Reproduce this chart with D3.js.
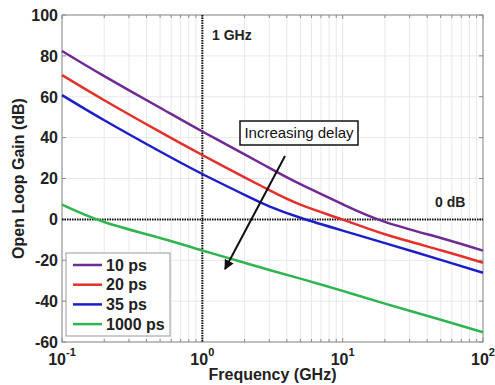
<!DOCTYPE html>
<html><head><meta charset="utf-8">
<script src="https://cdn.jsdelivr.net/npm/d3@7"></script>
<style>body{margin:0;background:#fff;} svg{display:block;font-family:Arial,"Liberation Sans",sans-serif;}</style>
</head><body>
<script>
const freqs = [0.1, 0.2, 0.5, 1, 2, 3, 5, 10, 20, 50, 100];
const seriesNames = ["10 ps", "20 ps", "35 ps", "1000 ps"];
const gain10 = [82.4, 70.1, 54.6, 43.0, 31.8, 25.2, 17.2, 7.4, -1.2, -9.1, -15.3];
const gain20 = [70.6, 58.3, 42.8, 31.5, 20.6, 14.3, 7.2, -0.1, -7.3, -15.1, -21.2];
const gain35 = [60.8, 48.5, 33.2, 22.2, 12.0, 6.4, 0.8, -5.5, -11.6, -19.8, -26.1];
const gain1000 = [7.2, -1.3, -9.1, -15.2, -21.2, -24.8, -29.0, -35.0, -41.2, -49.1, -55.2];
const colors = ["#6e2b94", "#e2312b", "#1c1fc8", "#2fb450"];
const yTicks = [-60, -40, -20, 0, 20, 40, 60, 80, 100];
const xTicks = [0.1, 1, 10, 100];
const xTickExp = ["-1", "0", "1", "2"];

const W = 495, H = 385;
const m = {l: 62, r: 12, t: 15, b: 43};
const svg = d3.select("body").append("svg").attr("width", W).attr("height", H);
const x = d3.scaleLog().domain([0.1, 100]).range([m.l, W - m.r]);
const y = d3.scaleLinear().domain([-60, 100]).range([H - m.b, m.t]);

// minor log ticks
const minor = [];
for (let d = 0.1; d < 100; d *= 10) for (let k = 2; k <= 9; k++) minor.push(+(d * k).toPrecision(3));

const grid = svg.append("g").attr("stroke", "#e8e8e8").attr("stroke-width", 1);
minor.concat(xTicks).forEach(f => grid.append("line").attr("x1", x(f)).attr("x2", x(f)).attr("y1", y(-60)).attr("y2", y(100)));
yTicks.forEach(v => grid.append("line").attr("x1", x(0.1)).attr("x2", x(100)).attr("y1", y(v)).attr("y2", y(v)));

// frame
svg.append("rect").attr("x", x(0.1)).attr("y", y(100)).attr("width", x(100) - x(0.1)).attr("height", y(-60) - y(100))
  .attr("fill", "none").attr("stroke", "#8a8a8a").attr("stroke-width", 1);

// inner ticks
const tk = svg.append("g").attr("stroke", "#8a8a8a").attr("stroke-width", 1);
minor.concat(xTicks).forEach(f => {
  const L = xTicks.includes(f) ? 4 : 3;
  tk.append("line").attr("x1", x(f)).attr("x2", x(f)).attr("y1", y(-60)).attr("y2", y(-60) - L);
  tk.append("line").attr("x1", x(f)).attr("x2", x(f)).attr("y1", y(100)).attr("y2", y(100) + L);
});
yTicks.forEach(v => {
  tk.append("line").attr("x1", x(0.1)).attr("x2", x(0.1) + 4).attr("y1", y(v)).attr("y2", y(v));
  tk.append("line").attr("x1", x(100)).attr("x2", x(100) - 4).attr("y1", y(v)).attr("y2", y(v));
});

// tick labels
yTicks.forEach(v => svg.append("text").attr("x", x(0.1) - 4).attr("y", y(v)).attr("dy", "0.36em")
  .attr("text-anchor", "end").attr("font-size", 16).attr("font-weight", "bold").attr("fill", "#222").text(v));
xTicks.forEach((f, i) => {
  const t = svg.append("text").attr("x", x(f)).attr("y", 365).attr("text-anchor", "middle")
    .attr("font-size", 16).attr("font-weight", "bold").attr("fill", "#222");
  t.append("tspan").text("10");
  t.append("tspan").attr("dy", -9).attr("font-size", 11).text(xTickExp[i]);
});

// axis titles
svg.append("text").attr("x", (x(0.1) + x(100)) / 2).attr("y", 380).attr("text-anchor", "middle")
  .attr("font-size", 16).attr("font-weight", "bold").attr("fill", "#222").text("Frequency (GHz)");
svg.append("text").attr("transform", `translate(24,${(y(100) + y(-60)) / 2}) rotate(-90)`).attr("text-anchor", "middle")
  .attr("font-size", 16).attr("font-weight", "bold").attr("fill", "#222").text("Open Loop Gain (dB)");

// reference dotted lines
svg.append("line").attr("x1", x(1)).attr("x2", x(1)).attr("y1", y(100)).attr("y2", y(-60))
  .attr("stroke", "#111").attr("stroke-width", 2).attr("stroke-dasharray", "1.5,1");
svg.append("line").attr("x1", x(0.1)).attr("x2", x(100)).attr("y1", y(0)).attr("y2", y(0))
  .attr("stroke", "#111").attr("stroke-width", 2).attr("stroke-dasharray", "1.5,1");

// curves
const allSeries = [gain10, gain20, gain35, gain1000];
const line = d3.line().x((d, i) => x(freqs[i])).y(d => y(d)).curve(d3.curveNatural);
allSeries.forEach((s, i) => svg.append("path").attr("d", line(s)).attr("fill", "none")
  .attr("stroke", colors[i]).attr("stroke-width", 2.5));

// annotations
svg.append("text").attr("x", 212).attr("y", 40).attr("font-size", 14).attr("font-weight", "bold").attr("fill", "#222").text("1 GHz");
svg.append("text").attr("x", 435).attr("y", 207).attr("font-size", 14).attr("font-weight", "bold").attr("fill", "#222").text("0 dB");

svg.append("defs").append("marker").attr("id", "ah").attr("viewBox", "0 0 10 10").attr("refX", 9).attr("refY", 5)
  .attr("markerWidth", 5).attr("markerHeight", 5).attr("orient", "auto")
  .append("path").attr("d", "M0,0 L10,5 L0,10 z").attr("fill", "#111");
svg.append("line").attr("x1", 285).attr("y1", 156).attr("x2", 225).attr("y2", 269)
  .attr("stroke", "#111").attr("stroke-width", 2).attr("marker-end", "url(#ah)");

svg.append("rect").attr("x", 240).attr("y", 121).attr("width", 118).attr("height", 24)
  .attr("fill", "#fff").attr("stroke", "#111").attr("stroke-width", 1.5);
svg.append("text").attr("x", 299).attr("y", 138).attr("text-anchor", "middle").attr("font-size", 15).attr("fill", "#111").text("Increasing delay");

// legend
const lg = svg.append("g");
lg.append("rect").attr("x", 66).attr("y", 253).attr("width", 104).attr("height", 83)
  .attr("fill", "#fff").attr("stroke", "#999").attr("stroke-width", 1);
seriesNames.forEach((n, i) => {
  const yy = 265 + i * 19.7;
  lg.append("line").attr("x1", 73).attr("x2", 102).attr("y1", yy).attr("y2", yy).attr("stroke", colors[i]).attr("stroke-width", 2.5);
  lg.append("text").attr("x", 106).attr("y", yy).attr("dy", "0.36em").attr("font-size", 16).attr("font-weight", "bold").attr("fill", "#222").text(n);
});
</script>
</body></html>
